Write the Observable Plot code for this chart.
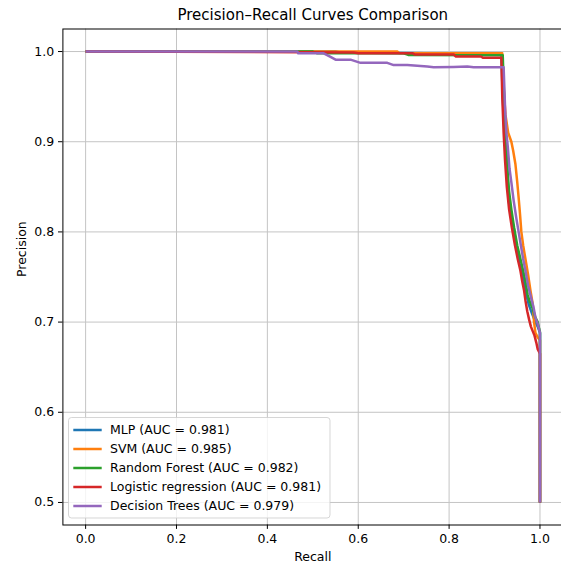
<!DOCTYPE html>
<html>
<head>
<meta charset="utf-8">
<script src="https://cdn.jsdelivr.net/npm/d3@7"></script>
<script src="https://cdn.jsdelivr.net/npm/@observablehq/plot@0.6"></script>
<style>
  html, body { margin: 0; padding: 0; background: #fff; overflow: hidden; }
  svg { font-family: "DejaVu Sans", sans-serif; }
</style>
</head>
<body>
<div id="chart"></div>
<script>
const models = ["MLP", "SVM", "Random Forest", "Logistic regression", "Decision Trees"];
const aucs = [0.981, 0.985, 0.982, 0.981, 0.979];
const colors = ["#1f77b4", "#ff7f0e", "#2ca02c", "#d62728", "#9467bd"];
const xTicks = [0, 0.2, 0.4, 0.6, 0.8, 1.0];
const yTicks = [0.5, 0.6, 0.7, 0.8, 0.9, 1.0];

const mlpRecall    = [0, 0.55, 0.56, 0.75, 0.915, 0.918, 0.922, 0.926, 0.929, 0.931, 0.936, 0.942, 0.948, 0.955, 0.962, 0.968, 0.975, 0.982, 0.99, 0.995, 1.0, 1.0];
const mlpPrecision = [1.0, 1.0, 0.999, 0.998, 0.997, 0.95, 0.91, 0.89, 0.86, 0.835, 0.82, 0.805, 0.785, 0.765, 0.75, 0.735, 0.72, 0.71, 0.70, 0.695, 0.688, 0.5];

const svmRecall    = [0, 0.686, 0.69, 0.917, 0.92, 0.924, 0.93, 0.937, 0.941, 0.946, 0.95, 0.953, 0.956, 0.959, 0.963, 0.968, 0.974, 0.979, 0.984, 0.987, 0.99, 0.995, 1.0, 1.0];
const svmPrecision = [1.0, 1.0, 0.9985, 0.998, 0.96, 0.93, 0.91, 0.90, 0.89, 0.875, 0.855, 0.838, 0.82, 0.80, 0.785, 0.77, 0.752, 0.735, 0.72, 0.70, 0.688, 0.683, 0.68, 0.5];

const rfRecall     = [0, 0.50, 0.51, 0.70, 0.71, 0.918, 0.921, 0.924, 0.928, 0.932, 0.937, 0.943, 0.95, 0.957, 0.963, 0.968, 0.973, 0.978, 0.984, 0.987, 0.99, 0.995, 0.998, 1.0, 1.0];
const rfPrecision  = [1.0, 1.0, 0.998, 0.998, 0.9963, 0.996, 0.95, 0.91, 0.87, 0.845, 0.825, 0.805, 0.785, 0.77, 0.757, 0.745, 0.73, 0.722, 0.715, 0.71, 0.705, 0.70, 0.693, 0.689, 0.5];

const lrRecall     = [0, 0.59, 0.60, 0.72, 0.725, 0.81, 0.815, 0.87, 0.875, 0.915, 0.917, 0.92, 0.923, 0.927, 0.932, 0.938, 0.945, 0.951, 0.957, 0.961, 0.965, 0.968, 0.972, 0.976, 0.98, 0.984, 0.988, 0.992, 0.995, 1.0, 1.0];
const lrPrecision  = [1.0, 0.999, 0.998, 0.998, 0.9967, 0.9967, 0.9945, 0.9945, 0.993, 0.993, 0.95, 0.91, 0.88, 0.85, 0.825, 0.805, 0.785, 0.77, 0.757, 0.745, 0.735, 0.724, 0.712, 0.703, 0.695, 0.69, 0.685, 0.677, 0.67, 0.665, 0.5];

const dtRecall     = [0, 0.466, 0.468, 0.524, 0.539, 0.55, 0.583, 0.605, 0.664, 0.678, 0.708, 0.752, 0.766, 0.81, 0.84, 0.854, 0.92, 0.923, 0.926, 0.929, 0.933, 0.937, 0.942, 0.948, 0.953, 0.958, 0.963, 0.968, 0.974, 0.98, 0.986, 0.99, 0.995, 1.0, 1.0];
const dtPrecision  = [1.0, 1.0, 0.998, 0.998, 0.994, 0.991, 0.991, 0.9875, 0.9875, 0.985, 0.985, 0.9835, 0.9826, 0.983, 0.9835, 0.9826, 0.9826, 0.94, 0.91, 0.895, 0.87, 0.855, 0.835, 0.815, 0.80, 0.785, 0.77, 0.757, 0.74, 0.728, 0.716, 0.705, 0.698, 0.688, 0.5];

const recalls = [mlpRecall, svmRecall, rfRecall, lrRecall, dtRecall];
const precisions = [mlpPrecision, svmPrecision, rfPrecision, lrPrecision, dtPrecision];

const rows = [];
models.forEach((m, i) => {
  recalls[i].forEach((r, j) => rows.push({model: m, recall: r, precision: precisions[i][j]}));
});

const W = 561, H = 568;
const fmt = d3.format(".1f");

const svg = Plot.plot({
  width: W,
  height: H,
  marginLeft: 62.4,
  marginRight: -1.2,
  marginTop: 28.5,
  marginBottom: 43.5,
  style: {fontFamily: "DejaVu Sans, sans-serif", fontSize: "12.5px", color: "#000", background: "#fff", overflow: "hidden"},
  x: {domain: [-0.05, 1.05]},
  y: {domain: [0.475, 1.025]},
  color: {domain: models, range: colors},
  marks: [
    Plot.gridX(xTicks, {stroke: "#c4c4c4", strokeOpacity: 1, strokeWidth: 1}),
    Plot.gridY(yTicks, {stroke: "#c4c4c4", strokeOpacity: 1, strokeWidth: 1}),
    Plot.line(rows, {x: "recall", y: "precision", z: "model", stroke: "model", strokeWidth: 2.5, strokeLinejoin: "round", strokeLinecap: "butt"}),
    Plot.frame({stroke: "#000", strokeWidth: 1}),
    Plot.axisX(xTicks, {tickFormat: fmt, tickSize: 4.4, tickPadding: 4.4, label: null, fontSize: 12.5, fill: "#000"}),
    Plot.axisY(yTicks, {tickFormat: fmt, tickSize: 4.4, tickPadding: 4.4, label: null, fontSize: 12.5, fill: "#000"}),
    Plot.text(["Precision–Recall Curves Comparison"], {frameAnchor: "top", dy: -13.5, fontSize: 15, lineAnchor: "middle", fill: "#000"}),
    Plot.text(["Recall"], {frameAnchor: "bottom", dy: 31.5, fontSize: 12.5, lineAnchor: "middle", fill: "#000"}),
    Plot.text(["Precision"], {frameAnchor: "left", dx: -41, rotate: -90, fontSize: 12.5, lineAnchor: "middle", fill: "#000"})
  ]
});

// Legend (lower left, inside the axes)
const lg = d3.select(svg).append("g")
  .attr("font-family", "DejaVu Sans, sans-serif")
  .attr("font-size", 12.5)
  .attr("text-anchor", "start");
const box = {x: 68.5, y: 417.5, w: 261.5, h: 100.5};
lg.append("rect")
  .attr("x", box.x).attr("y", box.y).attr("width", box.w).attr("height", box.h)
  .attr("rx", 3).attr("ry", 3)
  .attr("fill", "rgba(255,255,255,0.8)")
  .attr("stroke", "rgba(204,204,204,0.8)").attr("stroke-width", 1);
models.forEach((m, i) => {
  const cy = 430 + i * 19;
  lg.append("line")
    .attr("x1", 73.3).attr("x2", 101.7).attr("y1", cy).attr("y2", cy)
    .attr("stroke", colors[i]).attr("stroke-width", 2.5);
  lg.append("text")
    .attr("x", 110).attr("y", cy).attr("dy", "0.35em")
    .attr("text-anchor", "start")
    .attr("fill", "#000")
    .text(`${m} (AUC = ${aucs[i].toFixed(3)})`);
});

document.getElementById("chart").appendChild(svg);
</script>
</body>
</html>
